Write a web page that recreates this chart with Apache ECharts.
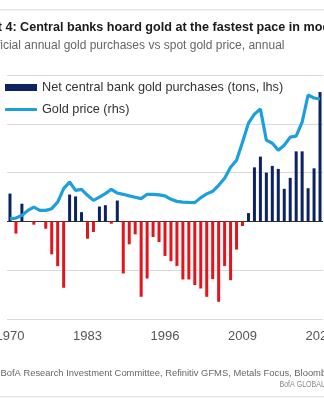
<!DOCTYPE html>
<html>
<head>
<meta charset="utf-8">
<script src="https://cdn.jsdelivr.net/npm/echarts@6/dist/echarts.min.js"></script>
<style>
html,body{margin:0;padding:0;background:#fff;}
#c{width:324px;height:400px;}
</style>
</head>
<body>
<div id="c"></div>
<script>
// Years 1970..2022
const years = [];
for (let y = 1970; y <= 2022; y++) years.push(String(y));

// Net central bank gold purchases (tons, lhs)
const purchases = [
  228, -100, 145, 0, -27, 0, -60, -270, -367, -544,
  220, 205, 76, -142, -87, 122, 133, -19, 171, -427,
  -188, -106, -618, -468, -128, -169, -283, -326, -365, -476,
  -476, -522, -550, -618, -473, -659, -365, -482, -231, -38,
  68, 443, 531, 400, 455, 430, 267, 357, 574, 574,
  272, 435, 1060
];

// Gold price (rhs), USD/oz
const goldPrice = [
  41, 50, 90, 166, 216, 166, 166, 191, 291, 493,
  592, 467, 482, 392, 316, 366, 417, 482, 426, 407,
  384, 362, 342, 407, 407, 399, 384, 332, 301, 291,
  286, 282, 357, 414, 452, 543, 648, 814, 919, 1190,
  1477, 1612, 1688, 1221, 1175, 1070, 1145, 1266, 1281, 1492,
  1899, 1854, 1839
];

const lhsTicks = [-800, -400, 0, 400, 800, 1200];

const FONT = "'Liberation Sans', Arial, sans-serif";
const NAVY = '#0b2263';
const RED = '#e3141c';
const BLUE = '#1ba0dc';

const chart = echarts.init(document.getElementById('c'), null, {renderer: 'canvas'});

const rhsMax = 2200;
const rhsMin = -rhsMax * (Math.abs(lhsTicks[0]) / lhsTicks[lhsTicks.length - 1]);

chart.setOption({
  backgroundColor: '#fff',
  animation: false,
  grid: {left: 7, right: 1, top: 75, bottom: 81, containLabel: false, outerBoundsMode: 'none'},
  legend: [
    {
      data: [{name: 'Net central bank gold purchases (tons, lhs)', icon: 'rect', itemStyle: {color: NAVY}}],
      left: 5, top: 81, padding: 0,
      itemWidth: 32, itemHeight: 7,
      textStyle: {fontFamily: FONT, fontSize: 12.7, color: '#333'}
    },
    {
      data: [{name: 'Gold price (rhs)', icon: 'roundRect'}],
      left: 5, top: 103, padding: 0,
      itemWidth: 32, itemHeight: 3,
      textStyle: {fontFamily: FONT, fontSize: 12.7, color: '#333'}
    }
  ],
  xAxis: {
    type: 'category',
    data: years,
    boundaryGap: true,
    axisLine: {show: false, onZero: false},
    axisTick: {show: false},
    axisLabel: {interval: 12, margin: 11, fontFamily: FONT, fontSize: 13, color: '#555', hideOverlap: false},
    splitLine: {show: false}
  },
  yAxis: [
    {
      type: 'value',
      min: lhsTicks[0], max: lhsTicks[lhsTicks.length - 1], interval: 400,
      axisLabel: {show: false},
      axisLine: {show: false}, axisTick: {show: false},
      splitLine: {show: true, lineStyle: {color: ['#d9d9d9', '#d9d9d9', '#333333', '#d9d9d9', '#d9d9d9', '#d9d9d9'], width: 1}}
    },
    {
      type: 'value',
      min: rhsMin, max: rhsMax,
      axisLabel: {show: false},
      axisLine: {show: false}, axisTick: {show: false},
      splitLine: {show: false}
    }
  ],
  series: [
    {
      name: 'Net central bank gold purchases (tons, lhs)',
      type: 'bar',
      yAxisIndex: 0,
      data: purchases,
      barWidth: 3,
      itemStyle: {color: function (p) { return p.value < 0 ? RED : NAVY; }},
      z: 2
    },
    {
      name: 'Gold price (rhs)',
      type: 'line',
      yAxisIndex: 1,
      data: goldPrice,
      symbol: 'none',
      showSymbol: false,
      lineStyle: {color: BLUE, width: 3.2},
      itemStyle: {color: BLUE},
      z: 3
    }
  ],
  graphic: [
    {type: 'rect', shape: {x: 0, y: 9, width: 324, height: 1.5}, style: {fill: '#e6e6e6'}, silent: true},
    {type: 'text', x: -31, y: 28, style: {text: 'Chart 4: Central banks hoard gold at the fastest pace in modern history', font: 'bold 12.6px ' + FONT, fill: '#1a1a1a', verticalAlign: 'middle', textVerticalAlign: 'middle'}},
    {type: 'text', x: -15.5, y: 46, style: {text: 'Official annual gold purchases vs spot gold price, annual', font: '12px ' + FONT, fill: '#666', verticalAlign: 'middle', textVerticalAlign: 'middle'}},
    {type: 'text', x: 0.5, y: 373, style: {text: 'BofA Research Investment Committee, Refinitiv GFMS, Metals Focus, Bloomberg', font: '9.4px ' + FONT, fill: '#666', verticalAlign: 'middle', textVerticalAlign: 'middle'}},
    {type: 'text', x: 279.5, y: 384, scaleX: 0.75, style: {text: 'BofA GLOBAL RESEARCH', font: '9.4px ' + FONT, fill: '#888', verticalAlign: 'middle', textVerticalAlign: 'middle'}},
    {type: 'rect', shape: {x: 0, y: 396, width: 324, height: 1.5}, style: {fill: '#e6e6e6'}, silent: true}
  ]
});
</script>
</body>
</html>
